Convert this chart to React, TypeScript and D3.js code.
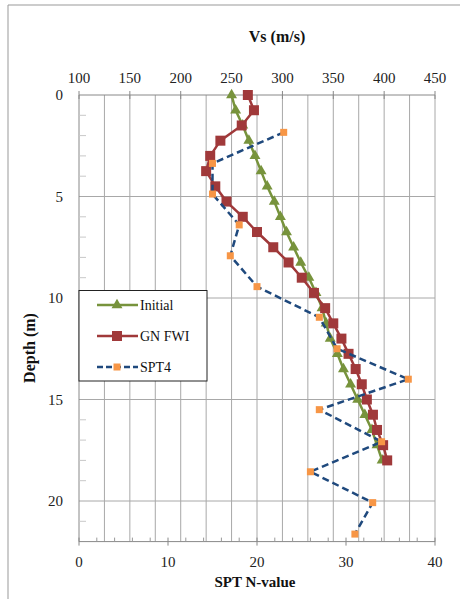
import React from "react";
import * as d3 from "d3";

// Depth (m) of model layers
const modelDepths = [0, 0.75, 1.5, 2.25, 3, 3.75, 4.5, 5.25, 6, 6.75, 7.5, 8.25, 9, 9.75, 10.5, 11.25, 12, 12.75, 13.5, 14.25, 15, 15.75, 16.5, 17.25, 18];
// Vs (m/s) – Initial model
const initialVs = [250, 254, 261, 267, 273, 279, 285, 292, 298, 304, 311, 318, 326, 333, 339, 343, 347, 354, 360, 367, 374, 381, 388, 393, 398];
// Vs (m/s) – GN FWI
const gnFwiVs = [266, 272, 260, 239, 229, 225, 234, 245, 261, 275, 291, 306, 319, 331, 342, 350, 358, 365, 372, 378, 383, 389, 393, 399, 403];
// SPT4
const sptDepths = [1.84, 3.37, 4.88, 6.4, 7.92, 9.44, 10.95, 12.5, 14.0, 15.5, 17.08, 18.56, 20.08, 21.63];
const sptN = [23, 15, 15, 18, 17, 20, 27, 29, 37, 27, 34, 26, 33, 31];

const vsTicks = [100, 150, 200, 250, 300, 350, 400, 450];
const nTicks = [0, 10, 20, 30, 40];
const depthTicks = [0, 5, 10, 15, 20];

const legendItems = ["Initial", "GN FWI", "SPT4"];

const GREEN = "#77933C";
const RED = "#A0393A";
const ORANGE = "#F79646";
const NAVY = "#1F497D";
const GRID = "#a8a8a8";
const FONT = "'Liberation Serif', 'Times New Roman', serif";

export default function App() {
  const L = 79, R = 435, T = 95, B = 541.6;
  const xVs = d3.scaleLinear().domain([100, 450]).range([L, R]);
  const xN = d3.scaleLinear().domain([0, 40]).range([L, R]);
  const y = d3.scaleLinear().domain([0, 22]).range([T, B]);

  const vsGrid = d3.range(125, 451, 25);
  const minorDepth = d3.range(1, 22, 1).filter((d) => d % 5 !== 0);
  const minorN = d3.range(2, 40, 2).filter((d) => d % 10 !== 0);

  const lineVs = d3
    .line<[number, number]>()
    .x((d) => xVs(d[0]))
    .y((d) => y(d[1]));
  const lineN = d3
    .line<[number, number]>()
    .x((d) => xN(d[0]))
    .y((d) => y(d[1]));

  const initPts: [number, number][] = initialVs.map((v, i) => [v, modelDepths[i]]);
  const fwiPts: [number, number][] = gnFwiVs.map((v, i) => [v, modelDepths[i]]);
  const sptPts: [number, number][] = sptN.map((v, i) => [v, sptDepths[i]]);

  const tri = d3.symbol().type(d3.symbolTriangle).size(52)() as string;

  const legY = [305, 336, 367];
  const ts = { fontFamily: FONT };

  return (
    <svg
      width={460}
      height={599}
      style={{ position: "absolute", left: 0, top: 0, background: "#fff", fontFamily: FONT }}
    >
      <rect x={0} y={0} width={460} height={599} fill="#fff" />
      {/* outer frame */}
      <line x1={8} y1={5} x2={460} y2={5} stroke="#999" strokeWidth={1} />
      <line x1={8} y1={5} x2={8} y2={599} stroke="#999" strokeWidth={1} />

      {/* vertical gridlines */}
      {vsGrid.map((v) => (
        <line key={"vg" + v} x1={xVs(v)} x2={xVs(v)} y1={T} y2={B} stroke={GRID} strokeWidth={1} />
      ))}
      {/* horizontal gridlines */}
      {depthTicks.slice(1).map((d) => (
        <line key={"hg" + d} x1={L} x2={R} y1={y(d)} y2={y(d)} stroke={GRID} strokeWidth={1} />
      ))}

      {/* axes */}
      <line x1={L} x2={R} y1={T} y2={T} stroke="#888" strokeWidth={1} />
      <line x1={L} x2={R} y1={B} y2={B} stroke="#888" strokeWidth={1} />
      <line x1={L} x2={L} y1={T} y2={B} stroke="#888" strokeWidth={1} />
      {minorDepth.map((d) => (
        <line key={"md" + d} x1={L} x2={L + 7} y1={y(d)} y2={y(d)} stroke="#c8c8c8" strokeWidth={1} />
      ))}
      {minorN.map((n) => (
        <line key={"mn" + n} x1={xN(n)} x2={xN(n)} y1={B} y2={B - 4} stroke="#999" strokeWidth={1} />
      ))}
      {nTicks.map((n) => (
        <line key={"tn" + n} x1={xN(n)} x2={xN(n)} y1={B - 4} y2={B + 4} stroke="#888" strokeWidth={1} />
      ))}
      {vsTicks.map((v) => (
        <line key={"tv" + v} x1={xVs(v)} x2={xVs(v)} y1={T - 4} y2={T + 4} stroke="#888" strokeWidth={1} />
      ))}

      {/* tick labels */}
      {vsTicks.map((v) => (
        <text key={"lv" + v} x={xVs(v)} y={82.5} textAnchor="middle" fontSize={15} fill="#222" style={ts}>
          {v}
        </text>
      ))}
      {nTicks.map((n) => (
        <text key={"ln" + n} x={xN(n)} y={567} textAnchor="middle" fontSize={15} fill="#222" style={ts}>
          {n}
        </text>
      ))}
      {depthTicks.map((d) => (
        <text key={"ld" + d} x={63} y={y(d) + 5} textAnchor="end" fontSize={15} fill="#222" style={ts}>
          {d}
        </text>
      ))}

      {/* titles */}
      <text x={277} y={42} textAnchor="middle" fontSize={16} fontWeight="bold" fill="#111" style={ts}>
        Vs (m/s)
      </text>
      <text x={255} y={587} textAnchor="middle" fontSize={15} fontWeight="bold" fill="#111" style={ts}>
        SPT N-value
      </text>
      <text
        transform={`translate(35,348) rotate(-90)`}
        textAnchor="middle"
        fontSize={16}
        fontWeight="bold"
        fill="#111"
        style={ts}
      >
        Depth (m)
      </text>

      {/* Initial */}
      <path d={lineVs(initPts) as string} fill="none" stroke={GREEN} strokeWidth={2.5} />
      {initPts.map((p, i) => (
        <path key={"it" + i} d={tri} transform={`translate(${xVs(p[0])},${y(p[1])})`} fill={GREEN} />
      ))}

      {/* GN FWI */}
      <path d={lineVs(fwiPts) as string} fill="none" stroke={RED} strokeWidth={2.5} />
      {fwiPts.map((p, i) => (
        <rect key={"fs" + i} x={xVs(p[0]) - 5} y={y(p[1]) - 5} width={10} height={10} fill={RED} />
      ))}

      {/* SPT4 */}
      <path
        d={lineN(sptPts) as string}
        fill="none"
        stroke={NAVY}
        strokeWidth={2.5}
        strokeDasharray="7,4"
      />
      {sptPts.map((p, i) => (
        <rect key={"ss" + i} x={xN(p[0]) - 3.5} y={y(p[1]) - 3.5} width={7} height={7} fill={ORANGE} />
      ))}

      {/* legend */}
      <rect x={79} y={290.5} width={128} height={90.5} fill="#fff" stroke="#222" strokeWidth={1} />
      {legendItems.map((name, i) => {
        const ly = legY[i];
        return (
          <g key={"lg" + i}>
            {i === 0 && (
              <>
                <line x1={97} x2={138} y1={ly} y2={ly} stroke={GREEN} strokeWidth={2.5} />
                <path d={tri} transform={`translate(117,${ly})`} fill={GREEN} />
              </>
            )}
            {i === 1 && (
              <>
                <line x1={97} x2={138} y1={ly} y2={ly} stroke={RED} strokeWidth={2.5} />
                <rect x={112} y={ly - 5} width={10} height={10} fill={RED} />
              </>
            )}
            {i === 2 && (
              <>
                <line x1={97} x2={138} y1={ly} y2={ly} stroke={NAVY} strokeWidth={2.5} strokeDasharray="6,3" />
                <rect x={113.5} y={ly - 3.5} width={7} height={7} fill={ORANGE} />
              </>
            )}
            <text x={140} y={ly + 4.5} fontSize={14} fill="#111" style={ts}>
              {name}
            </text>
          </g>
        );
      })}
    </svg>
  );
}
